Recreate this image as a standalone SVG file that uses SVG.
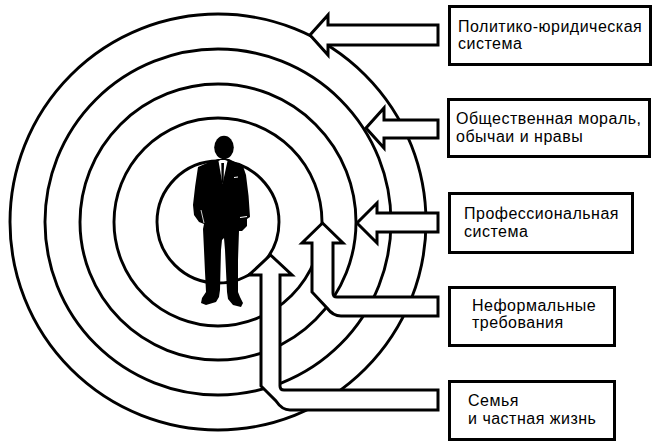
<svg xmlns="http://www.w3.org/2000/svg" width="659" height="445" viewBox="0 0 659 445">
<style>
.ring{fill:none;stroke:#000;stroke-width:2.9}
.box{fill:#fff;stroke:#000;stroke-width:3}
.arrow{fill:#fff;stroke:#000;stroke-width:3;stroke-linejoin:miter}
.lbl{font-family:"Liberation Sans",Arial,sans-serif;font-size:16px;letter-spacing:0.5px;fill:#000}
</style>
<rect width="659" height="445" fill="#fff"/>
<g id="rings">
<circle class="ring" cx="218" cy="222" r="208"/>
<circle class="ring" cx="218" cy="222" r="173"/>
<circle class="ring" cx="218" cy="222" r="138"/>
<circle class="ring" cx="218" cy="222" r="104"/>
<circle class="ring" cx="218" cy="222" r="61"/>
</g>
<g id="person">
<ellipse cx="224" cy="147.5" rx="9.8" ry="11.8" fill="#000"/>
<path fill="#000" d="M218,159 L207,163 L198,167 Q195,185 193,205 L194,215 L199,222 L204,224 L203,229 L204,250 L205,272 L206,292 L202,298 L201,303 L206,305 L216,302 L219,297 L220,290 L221,250 L222,240 L224,238 L225,250 L227,292 L228,299 L233,305 L241,307 L243,303 L240,297 L238,292 L238,260 L239,231 L242,231 L247,226 L247,219 L250,217 Q249,195 246,175 L243,166 L235,162 L229,159 Z"/>
<path fill="#fff" d="M218.5,161 L222.5,184 L227.5,161 L225,160 L220.5,160 Z"/>
<path fill="#000" d="M221.3,163 L224,163 L223.6,181 L222.6,184 L221.6,181 Z"/>
<path fill="none" stroke="#fff" stroke-width="1.2" d="M240,217.5 L247,216.5"/>
<path fill="none" stroke="#fff" stroke-width="0.8" d="M201,210 L204,223"/>
<path fill="none" stroke="#fff" stroke-width="1" d="M234,177.5 L238,177"/>
</g>
<g id="connectors">
<path class="arrow" d="M438,25 L328,25 L328,15 L310,35 L328,55 L328,45 L438,45 Z"/>
<path class="arrow" d="M438,120 L384,120 L384,108 L366,128 L384,148 L384,138 L438,138 Z"/>
<path class="arrow" d="M438,213 L377,213 L377,203 L357,223 L377,243 L377,232 L438,232 Z"/>
<path class="arrow" d="M438,297 L337,297 Q333,297 333,293 L333,243 L343,243 L322.5,223 L302,243 L312,243 L312,292 L327,308 Q333,316 341,316 L438,316 Z"/>
<path class="arrow" d="M438,390 L284,390 Q280,390 280,386 L280,275 L292,275 L270.5,255 L249,275 L261,275 L261,386 L276,401 Q282,410 290,410 L438,410 Z"/>
</g>
<g id="node-political">
<rect class="box" x="449.5" y="6.5" width="201" height="58"/>
<text class="lbl" x="458" y="32">Политико-юридическая</text>
<text class="lbl" x="458" y="49">система</text>
</g>
<g id="node-morals">
<rect class="box" x="448.5" y="99.5" width="201" height="57"/>
<text class="lbl" x="456" y="124">Общественная мораль,</text>
<text class="lbl" x="456" y="142">обычаи и нравы</text>
</g>
<g id="node-professional">
<rect class="box" x="449.5" y="193.5" width="183" height="59"/>
<text class="lbl" x="464" y="219">Профессиональная</text>
<text class="lbl" x="464" y="236.5">система</text>
</g>
<g id="node-informal">
<rect class="box" x="449.5" y="287.5" width="165" height="58"/>
<text class="lbl" x="472" y="311">Неформальные</text>
<text class="lbl" x="472" y="328">требования</text>
</g>
<g id="node-family">
<rect class="box" x="449.5" y="381.5" width="165" height="58"/>
<text class="lbl" x="468" y="406">Семья</text>
<text class="lbl" x="468" y="424">и частная жизнь</text>
</g>
</svg>
